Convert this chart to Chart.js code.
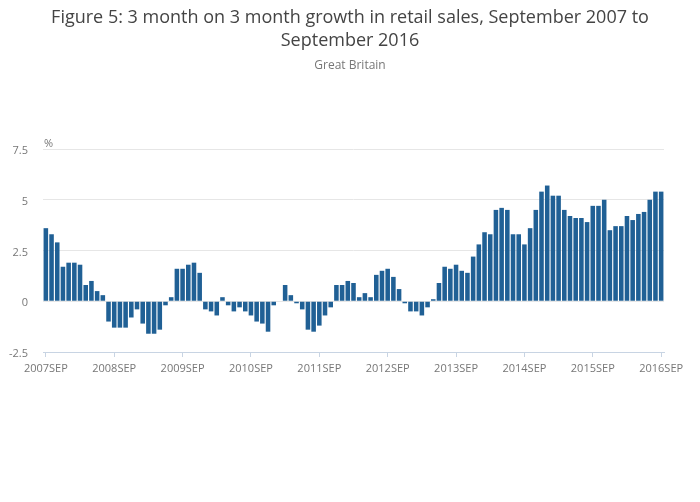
<!DOCTYPE html>
<html>
<head>
<meta charset="utf-8">
<script src="https://cdn.jsdelivr.net/npm/chart.js@4/dist/chart.umd.min.js"></script>
<style>
  html, body { margin: 0; padding: 0; background: #fff; }
  #wrap { position: relative; width: 700px; height: 502px; overflow: hidden; font-family: "Open Sans", sans-serif; }
  #chartBox { position: absolute; left: 0; top: 0; width: 700px; height: 502px; }
  .title { position: absolute; left: 0; top: 5px; width: 700px; text-align: center; font-size: 18px; line-height: 23px; color: #444; }
  .subtitle { position: absolute; left: 0; top: 57px; width: 700px; text-align: center; font-size: 12px; line-height: 16px; color: #777; }
  .unit { position: absolute; left: 44px; top: 136px; font-size: 11px; line-height: 14px; color: #777; }
</style>
</head>
<body>
<div id="wrap">
  <div id="chartBox"><canvas id="c" width="700" height="502"></canvas></div>
  <div class="title">Figure 5: 3 month on 3 month growth in retail sales, September 2007 to<br>September 2016</div>
  <div class="subtitle">Great Britain</div>
  <div class="unit">%</div>
</div>
<script>
// Categories: monthly, September 2007 to September 2016
const startYear = 2007;
const monthNames = ["SEP","OCT","NOV","DEC","JAN","FEB","MAR","APR","MAY","JUN","JUL","AUG"];
const categories = [];
for (let i = 0; i < 109; i++) {
  const y = startYear + Math.floor((i + 8) / 12);
  categories.push(String(y) + monthNames[i % 12]);
}

// 3 month on 3 month growth (%)
const growth2007_08 = [3.6, 3.3, 2.9, 1.7, 1.9, 1.9, 1.8, 0.8, 1.0, 0.5, 0.3, -1.0];
const growth2008_09 = [-1.3, -1.3, -1.3, -0.8, -0.4, -1.1, -1.6, -1.6, -1.4, -0.2, 0.2, 1.6];
const growth2009_10 = [1.6, 1.8, 1.9, 1.4, -0.4, -0.5, -0.7, 0.2, -0.2, -0.5, -0.3, -0.5];
const growth2010_11 = [-0.7, -1.0, -1.1, -1.5, -0.2, 0.0, 0.8, 0.3, -0.1, -0.4, -1.4, -1.5];
const growth2011_12 = [-1.2, -0.7, -0.3, 0.8, 0.8, 1.0, 0.9, 0.2, 0.4, 0.2, 1.3, 1.5];
const growth2012_13 = [1.6, 1.2, 0.6, -0.1, -0.5, -0.5, -0.7, -0.3, 0.1, 0.9, 1.7, 1.6];
const growth2013_14 = [1.8, 1.5, 1.4, 2.2, 2.8, 3.4, 3.3, 4.5, 4.6, 4.5, 3.3, 3.3];
const growth2014_15 = [2.8, 3.6, 4.5, 5.4, 5.7, 5.2, 5.2, 4.5, 4.2, 4.1, 4.1, 3.9];
const growth2015_16 = [4.7, 4.7, 5.0, 3.5, 3.7, 3.7, 4.2, 4.0, 4.3, 4.4, 5.0, 5.4, 5.4];
const values = [].concat(growth2007_08, growth2008_09, growth2009_10, growth2010_11,
  growth2011_12, growth2012_13, growth2013_14, growth2014_15, growth2015_16);

const yTicks = [-2.5, 0, 2.5, 5, 7.5];

const axisBlue = "#c8d4e3";
const gridGrey = "#e6e6e6";
const barBlue = "#206095";
const tickColor = "#777";

new Chart(document.getElementById("c"), {
  type: "bar",
  data: {
    labels: categories,
    datasets: [{
      data: values,
      backgroundColor: barBlue,
      borderWidth: 0,
      barPercentage: 0.8,
      categoryPercentage: 1.0
    }]
  },
  options: {
    responsive: false,
    animation: false,
    devicePixelRatio: 1,
    layout: { padding: { left: 0, top: 149, right: 36, bottom: 0 } },
    plugins: { legend: { display: false }, tooltip: { enabled: false }, title: { display: false } },
    scales: {
      x: {
        offset: true,
        afterFit: (s) => { s.height = 150; },
        grid: {
          offset: false,
          drawOnChartArea: false,
          drawTicks: true,
          tickLength: 5,
          color: axisBlue
        },
        border: { display: true, color: axisBlue, width: 1 },
        ticks: {
          autoSkip: false,
          maxRotation: 0,
          minRotation: 0,
          padding: 5,
          color: tickColor,
          font: { family: "Open Sans", size: 11 },
          callback: function (v, i) { return (i % 12 === 0) ? categories[i] : null; }
        }
      },
      y: {
        min: -2.5,
        max: 7.5,
        afterFit: (s) => { s.width = 43; },
        afterBuildTicks: (s) => { s.ticks = yTicks.map(v => ({ value: v })); },
        grid: {
          drawTicks: false,
          tickLength: 0,
          color: (ctx) => (ctx.tick && ctx.tick.value === -2.5) ? "rgba(0,0,0,0)" : gridGrey
        },
        border: { display: false },
        ticks: {
          padding: 15,
          labelOffset: 2,
          color: tickColor,
          font: { family: "Open Sans", size: 11 }
        }
      }
    }
  }
});
</script>
</body>
</html>
